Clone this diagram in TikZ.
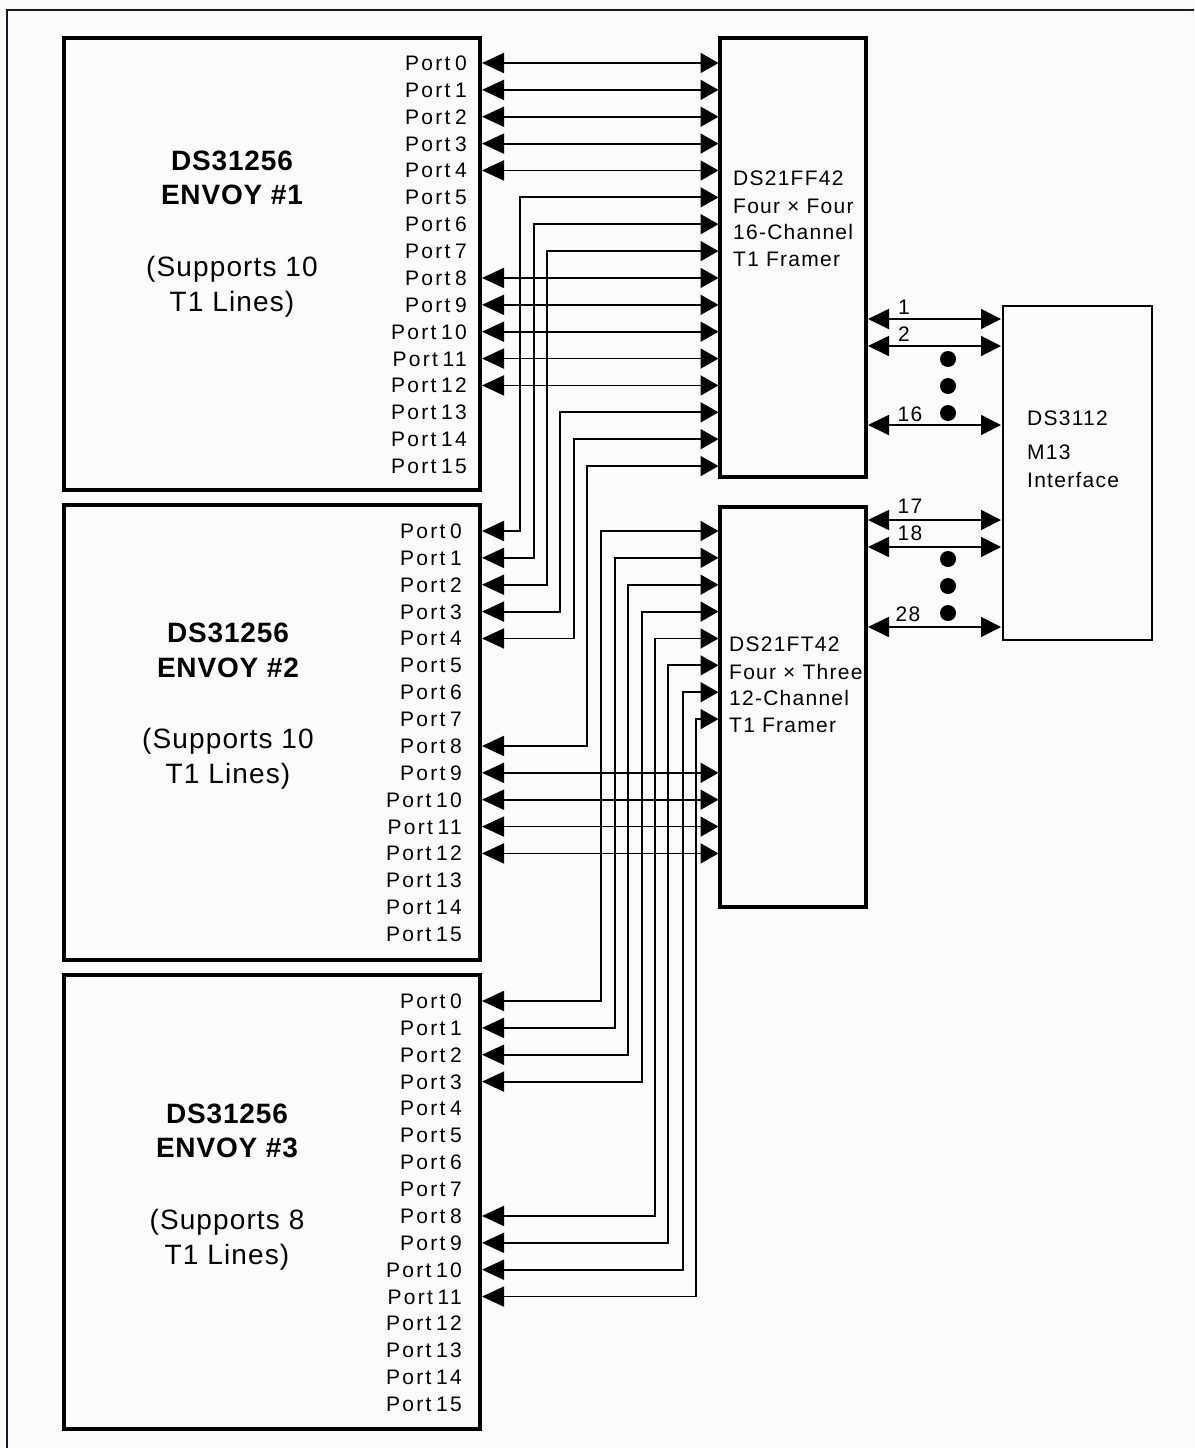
\documentclass[tikz,border=0pt]{standalone}
\usepackage{fontspec}
\setmainfont{Liberation Sans}
\newfontfamily\portfont[LetterSpace=11]{Liberation Sans}
\newfontfamily\titlefont[LetterSpace=3]{Liberation Sans}
\newfontfamily\subfont[LetterSpace=4]{Liberation Sans}
\newfontfamily\chipfont[LetterSpace=6]{Liberation Sans}
\usetikzlibrary{arrows.meta}
\definecolor{framenavy}{RGB}{20,20,70}
\definecolor{bgwhite}{RGB}{250,252,250}
\tikzset{
  envbox/.style={draw, line width=3.6pt, inner sep=0pt, outer sep=0pt},
  chipbox/.style={draw, line width=3.4pt, inner sep=0pt, outer sep=0pt},
  m13box/.style={draw, line width=2pt, inner sep=0pt, outer sep=0pt},
  portlbl/.style={anchor=east, inner sep=0pt, text height=15pt, text depth=0pt,
    font=\portfont\fontsize{21}{21}\selectfont},
  chiptxt/.style={anchor=west, inner sep=0pt, text height=15pt, text depth=0pt,
    font=\chipfont\fontsize{21}{21}\selectfont},
  numtxt/.style={inner sep=0pt, text height=15pt, text depth=0pt,
    font=\chipfont\fontsize{21}{21}\selectfont},
  titletxt/.style={inner sep=0pt, text height=20pt, text depth=0pt,
    font=\titlefont\bfseries\fontsize{28}{28}\selectfont},
  subtxt/.style={inner sep=0pt, text height=20pt, text depth=0pt,
    font=\subfont\fontsize{28}{28}\selectfont},
  link/.style={line width=1.8pt,
    arrows={Triangle[length=22pt,width=20pt]-Triangle[length=18pt,width=20pt]}},
  m13link/.style={line width=1.8pt,
    arrows={Triangle[length=21pt,width=20pt]-Triangle[length=20pt,width=20pt]}},
  dotnode/.style={circle, fill, inner sep=0pt, minimum size=16pt},
}
\begin{document}
\begin{tikzpicture}[x=1pt, y=-1pt]
\useasboundingbox (0,0) rectangle (1194,1448);
\fill[bgwhite] (0,0) rectangle (1194,1448);
\draw[framenavy, line width=2.5pt] (7,1448) -- (7,10) -- (1194,10);

% boxes
\node[envbox, minimum width=416pt, minimum height=452pt] (env1) at (272,264) {};
\node[envbox, minimum width=416pt, minimum height=455pt] (env2) at (272,732.5) {};
\node[envbox, minimum width=416pt, minimum height=454pt] (env3) at (272,1202) {};
\node[chipbox, minimum width=146pt, minimum height=439pt] (fr1) at (793,257.5) {};
\node[chipbox, minimum width=146pt, minimum height=400pt] (fr2) at (793,707) {};
\node[m13box, minimum width=149pt, minimum height=334pt] (m13) at (1077.5,473) {};

% envoy titles
\node[titletxt] (e1ta) at (232,160) {DS31256};
\node[titletxt] (e1tb) at (232,194) {ENVOY \#1};
\node[subtxt] (e1sa) at (232,266) {(Supports 10};
\node[subtxt] (e1sb) at (232,301) {T1 Lines)};
\node[titletxt] (e2ta) at (228,632) {DS31256};
\node[titletxt] (e2tb) at (228,667) {ENVOY \#2};
\node[subtxt] (e2sa) at (228,738) {(Supports 10};
\node[subtxt] (e2sb) at (228,773) {T1 Lines)};
\node[titletxt] (e3ta) at (227,1113) {DS31256};
\node[titletxt] (e3tb) at (227,1147) {ENVOY \#3};
\node[subtxt] (e3sa) at (227,1219) {(Supports 8};
\node[subtxt] (e3sb) at (227,1254) {T1 Lines)};

% chip texts
\node[chiptxt] (f1a) at (733,178) {DS21FF42};
\node[chiptxt] (f1b) at (733,206) {Four × Four};
\node[chiptxt] (f1c) at (733,232) {16-Channel};
\node[chiptxt] (f1d) at (733,259) {T1 Framer};
\node[chiptxt] (f2a) at (729,644) {DS21FT42};
\node[chiptxt] (f2b) at (729,672) {Four × Three};
\node[chiptxt] (f2c) at (729,698) {12-Channel};
\node[chiptxt] (f2d) at (729,725) {T1 Framer};
\node[chiptxt] (ma) at (1027,418) {DS3112};
\node[chiptxt] (mb) at (1027,452) {M13};
\node[chiptxt] (mc) at (1027,480) {Interface};

% port labels and pins
\foreach \k in {0,...,15}{
  \node[portlbl] (e1l\k) at (467,{63+26.87*\k}) {Port\hspace{0.22em}\k};
  \coordinate (e1o\k) at (482,{63+26.87*\k});
  \node[portlbl] (e2l\k) at (462,{531+26.87*\k}) {Port\hspace{0.22em}\k};
  \coordinate (e2o\k) at (482,{531+26.87*\k});
  \node[portlbl] (e3l\k) at (462,{1001+26.87*\k}) {Port\hspace{0.22em}\k};
  \coordinate (e3o\k) at (482,{1001+26.87*\k});
  \coordinate (f1i\k) at (718.5,{63+26.87*\k});
}
\foreach \k in {0,...,7,9,10,11,12}{
  \coordinate (f2i\k) at (718.5,{531+26.87*\k});
}

% envoy 1 direct
\foreach \k in {0,...,4,8,9,10,11,12}{
  \draw[link] (e1o\k) -- (f1i\k);
}
% envoy 2 -> framer 1
\foreach \r/\p/\x in {5/0/520,6/1/534,7/2/547,13/3/560,14/4/574,15/8/587}{
  \draw[link] (e2o\p) -- ++({\x-482},0) |- (f1i\r);
}
% envoy 2 direct -> framer 2
\foreach \k in {9,10,11,12}{
  \draw[link] (e2o\k) -- (f2i\k);
}
% envoy 3 -> framer 2
\foreach \r/\p/\x in {0/0/601,1/1/615,2/2/628,3/3/642,4/8/655,5/9/668,6/10/683,7/11/696}{
  \draw[link] (e3o\p) -- ++({\x-482},0) |- (f2i\r);
}

% framer to M13
\foreach \n/\y in {1/319,2/346,16/425}{
  \coordinate (f1o\n) at (868,\y);
  \coordinate (mi\n) at (1001,\y);
  \draw[m13link] (f1o\n) -- (mi\n);
}
\foreach \n/\y in {17/520,18/547,28/627}{
  \coordinate (f2o\n) at (868,\y);
  \coordinate (mi\n) at (1001,\y);
  \draw[m13link] (f2o\n) -- (mi\n);
}
\node[numtxt] (n1) at (904,307) {1};
\node[numtxt] (n2) at (904,334) {2};
\node[numtxt] (n16) at (910,414) {16};
\node[numtxt] (n17) at (910,506) {17};
\node[numtxt] (n18) at (910,533) {18};
\node[numtxt] (n28) at (908,614) {28};

\node[dotnode] (da1) at (948,359) {};
\node[dotnode] (da2) at (948,386) {};
\node[dotnode] (da3) at (948,413) {};
\node[dotnode] (db1) at (948,559) {};
\node[dotnode] (db2) at (948,586) {};
\node[dotnode] (db3) at (948,613) {};
\end{tikzpicture}
\end{document}
